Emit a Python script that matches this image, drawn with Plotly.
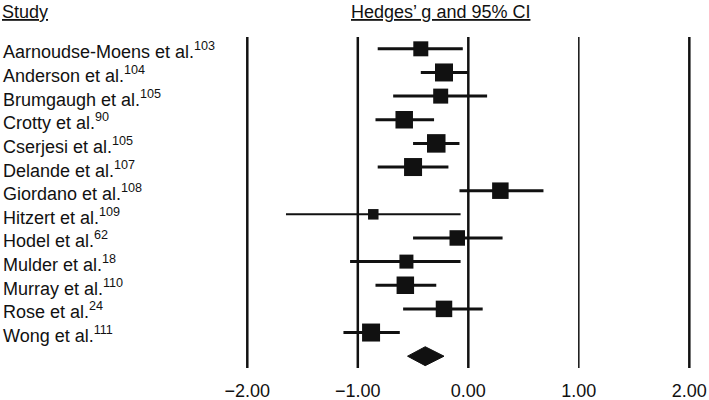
import plotly.graph_objects as go

# study names and reference numbers
studies = ["Aarnoudse-Moens et al.", "Anderson et al.", "Brumgaugh et al.", "Crotty et al.",
           "Cserjesi et al.", "Delande et al.", "Giordano et al.", "Hitzert et al.",
           "Hodel et al.", "Mulder et al.", "Murray et al.", "Rose et al.", "Wong et al."]
refs = ["103", "104", "105", "90", "105", "107", "108", "109", "62", "18", "110", "24", "111"]

# Hedges' g with 95% CI
g = [-0.43, -0.22, -0.25, -0.58, -0.29, -0.50, 0.29, -0.86, -0.10, -0.56, -0.57, -0.22, -0.88]
lo = [-0.82, -0.43, -0.68, -0.84, -0.50, -0.82, -0.08, -1.65, -0.50, -1.07, -0.84, -0.59, -1.13]
hi = [-0.05, 0.00, 0.17, -0.31, -0.08, -0.18, 0.68, -0.07, 0.31, -0.07, -0.29, 0.13, -0.62]

# pooled estimate
pooled_g = -0.39
pooled_lo = -0.55
pooled_hi = -0.22

tick_vals = [-2, -1, 0, 1, 2]
tick_text = ["\u22122.00", "\u22121.00", "0.00", "1.00", "2.00"]

# marker sizes (study weights) and CI line widths
sq_size = [15, 18, 15, 17.5, 18.5, 18, 16.5, 10.5, 15.5, 14, 17.5, 16.5, 18]
ci_width = [3, 3, 3, 3, 3, 3, 3, 2, 3, 3, 3, 3, 3]

FONT = "Liberation Sans, Arial, sans-serif"
INK = "#111111"

fig = go.Figure()
rows = list(range(1, len(studies) + 1))

for i, r in enumerate(rows):
    fig.add_trace(go.Scatter(x=[lo[i], hi[i]], y=[r, r], mode="lines",
                             line=dict(color=INK, width=ci_width[i]),
                             showlegend=False, hoverinfo="skip"))

fig.add_trace(go.Scatter(x=g, y=rows, mode="markers", text=studies,
                         marker=dict(symbol="square", size=sq_size, color=INK,
                                     opacity=1, line=dict(width=0)),
                         opacity=1, showlegend=False))

# diamond for pooled effect
dr = len(studies) + 1
dh = 0.4
fig.add_trace(go.Scatter(x=[pooled_lo, pooled_g, pooled_hi, pooled_g, pooled_lo],
                         y=[dr, dr - dh, dr, dr + dh, dr],
                         mode="lines", fill="toself", fillcolor=INK,
                         line=dict(color=INK, width=1), showlegend=False))

# vertical reference lines
for v in tick_vals:
    fig.add_shape(type="line", x0=v, x1=v, y0=0.5, y1=dr + 0.5, xref="x", yref="y",
                  line=dict(color=INK, width=1.5 if v == 1 else 2.5), layer="below")

L = 225
W = 709 - L
fig.add_annotation(text="<u>Study</u>", xref="paper", yref="paper",
                   x=-L / W, y=1, yshift=25, xanchor="left", yanchor="middle",
                   showarrow=False, font=dict(size=18, color=INK, family=FONT))
fig.add_annotation(text="<u>Hedges\u2019 g and 95% CI</u>", xref="x", yref="paper",
                   x=-0.25, y=1, yshift=25, xanchor="center", yanchor="middle",
                   showarrow=False, font=dict(size=18, color=INK, family=FONT))

for i, r in enumerate(rows):
    fig.add_annotation(text=studies[i] + "<sup>" + refs[i] + "</sup>",
                       xref="paper", yref="y", x=-(L - 1) / W, y=r, yshift=-2,
                       xanchor="left", yanchor="middle", showarrow=False,
                       font=dict(size=18, color=INK, family=FONT))

fig.update_layout(
    width=709, height=400,
    margin=dict(l=L, r=0, t=37, b=32),
    plot_bgcolor="white", paper_bgcolor="white",
    font=dict(family=FONT, size=18, color=INK),
    xaxis=dict(range=[-2.2018, 2.178], tickvals=tick_vals, ticktext=tick_text,
               showgrid=False, zeroline=False, showline=False, ticks="",
               ticklabelstandoff=10, fixedrange=True),
    yaxis=dict(range=[dr + 0.5, 0.5], showgrid=False, zeroline=False,
               showticklabels=False, showline=False, fixedrange=True),
)

fig.write_html("out.html", config={"displayModeBar": False},
               post_script="document.body.style.margin='0';")
